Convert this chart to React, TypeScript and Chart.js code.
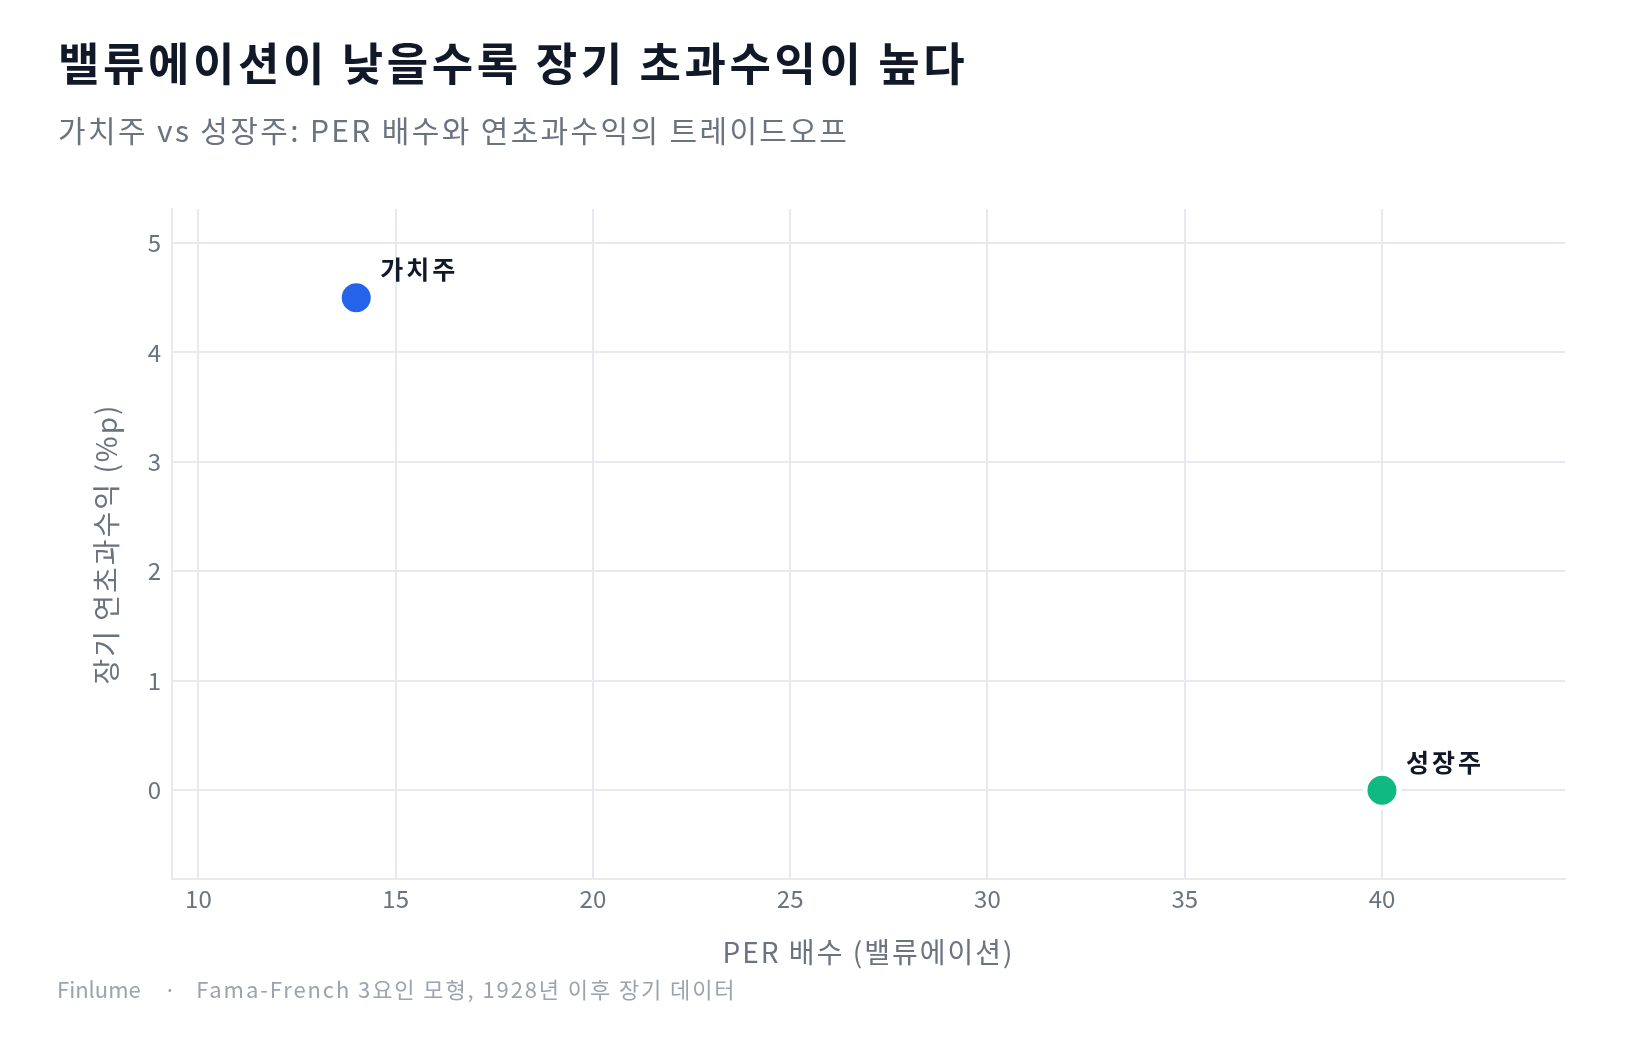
import { useEffect, useRef } from 'react';
import { Chart, registerables } from 'chart.js';

Chart.register(...registerables);

// data
const seriesNames = ['가치주', '성장주'];
const perValues = [14, 40];
const excessReturns = [4.5, 0];
const pointColors = ['#2563eb', '#10b981'];
const xTicks = [10, 15, 20, 25, 30, 35, 40];
const yTicks = [0, 1, 2, 3, 4, 5];
const xTitle = 'PER 배수 (밸류에이션)';
const yTitle = '장기 연초과수익 (%p)';

const FONT = '"Noto Sans CJK KR", "Noto Sans", sans-serif';
const GRID = '#e7e9ee';
const MUTED = '#6b7280';

// bold names beside the points, plus the two axis titles (hangul in the
// reference sits wider than Noto, so a bit of letter spacing)
const annotations = {
  id: 'annotations',
  afterDraw(chart: Chart) {
    const ctx = chart.ctx as any;
    const area = chart.chartArea;
    ctx.save();
    ctx.font = `bold 25px ${FONT}`;
    ctx.letterSpacing = '3px';
    ctx.fillStyle = '#111827';
    ctx.textAlign = 'left';
    ctx.textBaseline = 'middle';
    chart.data.datasets.forEach((ds, i) => {
      const pt = chart.getDatasetMeta(i).data[0];
      if (!pt) return;
      ctx.fillText(String(ds.label), pt.x + 24, pt.y - 28);
    });

    ctx.font = `28px ${FONT}`;
    ctx.letterSpacing = '2px';
    ctx.fillStyle = MUTED;
    ctx.textAlign = 'center';
    ctx.fillText(xTitle, (area.left + area.right) / 2, 952);

    ctx.translate(106, (area.top + area.bottom) / 2);
    ctx.rotate(-Math.PI / 2);
    ctx.fillText(yTitle, 0, 0);
    ctx.restore();
  },
};

export default function App() {
  const canvasRef = useRef<HTMLCanvasElement>(null);

  useEffect(() => {
    document.body.style.margin = '0';
    if (!canvasRef.current) return;

    const chart = new Chart(canvasRef.current, {
      type: 'scatter',
      data: {
        datasets: seriesNames.map((name, i) => ({
          label: name,
          data: [{ x: perValues[i], y: excessReturns[i] }],
          backgroundColor: pointColors[i],
          borderColor: '#ffffff',
          borderWidth: 5,
          pointRadius: 17,
          pointHoverRadius: 17,
        })),
      },
      options: {
        responsive: true,
        maintainAspectRatio: false,
        animation: false,
        layout: { padding: { top: 209, left: 100, right: 74, bottom: 75 } },
        plugins: {
          legend: { display: false },
          tooltip: { enabled: false },
        },
        scales: {
          x: {
            type: 'linear',
            min: 9.33,
            max: 44.64,
            afterBuildTicks: (s: any) => { s.ticks = xTicks.map((v) => ({ value: v })); },
            afterFit: (s: any) => { s.height = 86; },
            grid: { color: GRID, lineWidth: 2, drawTicks: false },
            border: { display: true, color: GRID, width: 2 },
            ticks: { color: MUTED, padding: 5, font: { family: FONT, size: 24 } },
          },
          y: {
            type: 'linear',
            min: -0.81,
            max: 5.31,
            afterBuildTicks: (s: any) => { s.ticks = yTicks.map((v) => ({ value: v })); },
            afterFit: (s: any) => { s.width = 72; },
            grid: { color: GRID, lineWidth: 2, drawTicks: false },
            border: { display: true, color: GRID, width: 2 },
            ticks: { color: MUTED, padding: 11, font: { family: FONT, size: 24 } },
          },
        },
      },
      plugins: [annotations],
    });

    return () => { chart.destroy(); };
  }, []);

  return (
    <div style={{ position: 'relative', width: 1639, height: 1040, background: '#fff', fontFamily: FONT }}>
      <div style={{ position: 'absolute', left: 0, top: 0, width: 1639, height: 1040 }}>
        <canvas ref={canvasRef} />
      </div>
      <div style={{ position: 'absolute', left: 58, top: 35, fontSize: 45, fontWeight: 700, color: '#111827', lineHeight: 1.2, letterSpacing: 3.6, whiteSpace: 'nowrap' }}>
        밸류에이션이 낮을수록 장기 초과수익이 높다
      </div>
      <div style={{ position: 'absolute', left: 58, top: 111, fontSize: 30, color: MUTED, lineHeight: 1.2, letterSpacing: 2.35, whiteSpace: 'nowrap' }}>
        가치주 vs 성장주: PER 배수와 연초과수익의 트레이드오프
      </div>
      <div style={{ position: 'absolute', left: 57, top: 975, fontSize: 22, color: '#9ca3af', lineHeight: 1.2, whiteSpace: 'nowrap' }}>
        <span>Finlume</span>
        <span style={{ margin: '0 20px 0 23px' }}>·</span>
        <span style={{ letterSpacing: 1.9 }}>Fama-French 3요인 모형, 1928년 이후 장기 데이터</span>
      </div>
    </div>
  );
}
